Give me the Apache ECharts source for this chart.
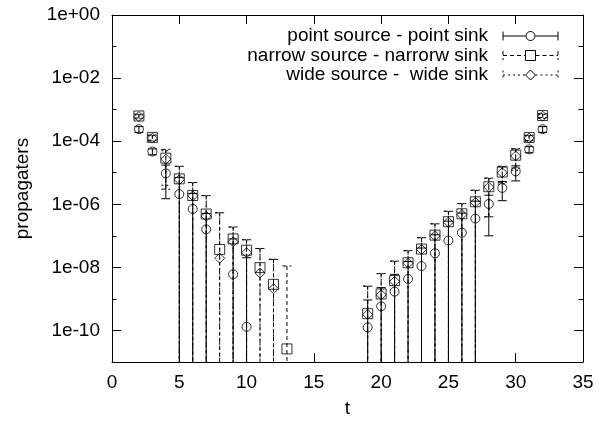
<!DOCTYPE html>
<html>
<head>
<meta charset="utf-8">
<script src="https://cdn.jsdelivr.net/npm/echarts@6/dist/echarts.min.js"></script>
<style>
  html, body { margin: 0; padding: 0; background: #fff; }
  #chart { width: 611px; height: 423px; }
</style>
</head>
<body>
<div id="chart"></div>
<script>
// Euclidean time slices t = 2 .. 32
const timeSlices = [2, 3, 4, 5, 6, 7, 8, 9, 10, 11, 12, 13, 14, 15, 16, 17, 18,
                    19, 20, 21, 22, 23, 24, 25, 26, 27, 28, 29, 30, 31, 32];

const seriesNames = [
  'point source - point sink',
  'narrow source - narrorw sink',
  'wide source -  wide sink'
];

// point source - point sink
const pointValues = [2.4e-4, 4.7e-5, 9.5e-6, 2.1e-6, 7.1e-7, 1.6e-7, null, 6.0e-9, 1.3e-10,
  null, null, null, null, null, null, null, null,
  1.25e-10, 5.8e-10, 1.7e-9, 4.3e-9, 1.1e-8, 2.8e-8, 7.1e-8, 1.26e-7, 3.5e-7, 1.02e-6,
  3.3e-6, 1.1e-5, 5.5e-5, 2.4e-4];
const pointErrors = [5e-5, 1e-5, 8e-6, 5e-6, 1.5e-6, 3.5e-7, null, 7.4e-8, 2.0e-8,
  null, null, null, null, null, null, null, null,
  8e-10, 1.7e-9, 4.3e-9, 1.1e-8, 3e-8, 8e-8, 2.2e-7, 4e-7, 9e-7, 9.2e-7,
  2.0e-6, 5.5e-6, 1.2e-5, 5e-5];

// narrow source - narrow sink
const narrowValues = [6.3e-4, 1.32e-4, 2.9e-5, 6.4e-6, 1.9e-6, 4.9e-7, 3.7e-8, 8.0e-8, 3.5e-8,
  9.8e-9, 2.9e-9, 2.6e-11, null, null, null, null, null,
  3.4e-10, 1.44e-9, 3.8e-9, 1.4e-8, 3.8e-8, 1.05e-7, 2.8e-7, 5.0e-7, 1.2e-6, 3.6e-6,
  1.05e-5, 3.6e-5, 1.3e-4, 6.5e-4];
const narrowErrors = [9e-5, 2.5e-5, 2.6e-5, 9.6e-6, 3.0e-6, 1.4e-6, 5e-7, 1.1e-7, 4e-8,
  3e-8, 1.5e-8, 1.1e-8, null, null, null, null, null,
  2.2e-9, 4.9e-9, 1.2e-8, 2.0e-8, 4.9e-8, 1.35e-7, 3.2e-7, 5.5e-7, 1.6e-6, 3.2e-6,
  5.5e-6, 2.2e-5, 2.5e-5, 9e-5];

// wide source - wide sink
const wideValues = [6.0e-4, 1.25e-4, 2.7e-5, 6.0e-6, 1.85e-6, 4.2e-7, 1.95e-8, 6.5e-8, 2.9e-8,
  6.6e-9, 2.1e-9, null, null, null, null, null, null,
  3.2e-10, 1.35e-9, 3.6e-9, 1.35e-8, 3.7e-8, 1.0e-7, 2.7e-7, 4.7e-7, 1.15e-6, 3.5e-6,
  1.0e-5, 3.4e-5, 1.25e-4, 6.2e-4];
const wideErrors = [9e-5, 2.5e-5, 2.3e-5, 1.0e-5, 3.0e-6, 1.45e-6, 5.2e-7, 1.25e-7, 4.6e-8,
  3.3e-8, 1.6e-8, null, null, null, null, null, null,
  2.2e-9, 5.0e-9, 1.2e-8, 2.0e-8, 5.0e-8, 1.4e-7, 3.3e-7, 5.8e-7, 1.6e-6, 3.1e-6,
  5.6e-6, 2.2e-5, 2.5e-5, 9e-5];

// one entry per decade, 1e-11 .. 1e+00; labelled every second decade
const yDecadeLabels = ['', '1e-10', '', '1e-08', '', '1e-06', '', '1e-04', '', '1e-02', '', '1e+00'];
const yMin = 1e-11, yMax = 1;
const xMin = 0, xMax = 35, xStep = 5;

const FONT = '"Liberation Sans", Arial, Helvetica, sans-serif';
const FS = 19;
const INK = '#000';

function toRows(values, errors) {
  const rows = [];
  timeSlices.forEach((t, i) => {
    if (values[i] != null) rows.push([t, values[i], errors[i]]);
  });
  return rows;
}

function errorBars(dash) {
  return function (params, api) {
    const t = api.value(0), v = api.value(1), e = api.value(2);
    const cs = params.coordSys;
    const floorY = cs.y + cs.height;
    const hi = api.coord([t, v + e]);
    const x = hi[0];
    const low = v - e;
    const hasLow = low > yMin;
    const yLow = hasLow ? api.coord([t, low])[1] : floorY;
    const style = { stroke: INK, lineWidth: 1, fill: null };
    if (dash) style.lineDash = dash;
    const children = [
      { type: 'line', shape: { x1: x, y1: hi[1], x2: x, y2: yLow }, style: style },
      { type: 'line', shape: { x1: x - 4.5, y1: hi[1], x2: x + 4.5, y2: hi[1] }, style: style }
    ];
    if (hasLow) {
      children.push({ type: 'line', shape: { x1: x - 4.5, y1: yLow, x2: x + 4.5, y2: yLow }, style: style });
    }
    return { type: 'group', children: children };
  };
}

const styles = [
  { dash: null, symbol: 'circle', size: 9, rows: toRows(pointValues, pointErrors) },
  { dash: [4, 3], symbol: 'rect', size: 10, rows: toRows(narrowValues, narrowErrors) },
  { dash: [2, 3], symbol: 'diamond', size: 10, rows: toRows(wideValues, wideErrors) }
];

const series = [];
styles.forEach((s, k) => {
  series.push({
    type: 'custom',
    name: seriesNames[k] + ' errors',
    xAxisIndex: 0, yAxisIndex: 0,
    clip: true,
    silent: true,
    renderItem: errorBars(s.dash),
    encode: { x: 0, y: 1 },
    data: s.rows,
    z: 2
  });
});
styles.forEach((s, k) => {
  series.push({
    type: 'scatter',
    name: seriesNames[k],
    xAxisIndex: 0, yAxisIndex: 0,
    symbol: s.symbol,
    symbolSize: s.size,
    itemStyle: { color: 'rgba(0,0,0,0)', borderColor: INK, borderWidth: 1 },
    silent: true,
    data: s.rows.map(r => [r[0], r[1]]),
    z: 3
  });
});

// legend: text on the left, error-bar sample on the right
const legendY = [36, 55.5, 75];
const graphic = [];
styles.forEach((s, k) => {
  const y = legendY[k];
  const x1 = 503, x2 = 558, xm = 530.5;
  const st = { stroke: INK, lineWidth: 1, fill: null };
  if (s.dash) st.lineDash = s.dash;
  graphic.push({
    type: 'text', x: 488, y: y,
    style: { text: seriesNames[k], font: FS + 'px ' + FONT, fill: INK, align: 'right', verticalAlign: 'middle' }
  });
  graphic.push({ type: 'line', shape: { x1: x1, y1: y, x2: xm - 5, y2: y }, style: st });
  graphic.push({ type: 'line', shape: { x1: xm + 5, y1: y, x2: x2, y2: y }, style: st });
  graphic.push({ type: 'line', shape: { x1: x1, y1: y - 4.5, x2: x1, y2: y + 4.5 }, style: st });
  graphic.push({ type: 'line', shape: { x1: x2, y1: y - 4.5, x2: x2, y2: y + 4.5 }, style: st });
  const mk = { stroke: INK, lineWidth: 1, fill: null };
  if (s.symbol === 'circle') {
    graphic.push({ type: 'circle', shape: { cx: xm, cy: y, r: 4.5 }, style: mk });
  } else if (s.symbol === 'rect') {
    graphic.push({ type: 'rect', shape: { x: xm - 5, y: y - 5, width: 10, height: 10 }, style: mk });
  } else {
    graphic.push({ type: 'polygon', shape: { points: [[xm, y - 5], [xm + 5, y], [xm, y + 5], [xm - 5, y]] }, style: mk });
  }
});

const axisText = { color: INK, fontFamily: FONT, fontSize: FS };
const line = { show: true, lineStyle: { color: INK, width: 1 } };

function decadeAxis(position, tickLen, onlyLabelled, withLabels, withLine) {
  return {
    type: 'category',
    position: position,
    data: yDecadeLabels,
    boundaryGap: false,
    axisLine: withLine ? line : { show: false },
    axisTick: {
      show: true, inside: true, length: tickLen,
      interval: onlyLabelled ? (i, v) => v !== '' : 0,
      lineStyle: { color: INK, width: 1 }
    },
    axisLabel: withLabels ? Object.assign({ show: true, interval: 0, margin: 12 }, axisText) : { show: false },
    splitLine: { show: false }
  };
}

const option = {
  animation: false,
  backgroundColor: '#fff',
  grid: { left: 112, right: 28, top: 15, bottom: 59, containLabel: false },
  xAxis: [
    {
      type: 'value', position: 'bottom', min: xMin, max: xMax, interval: xStep,
      name: 't', nameLocation: 'middle', nameGap: 37,
      nameTextStyle: axisText,
      axisLine: line,
      axisTick: { show: true, inside: true, length: 9, lineStyle: { color: INK } },
      axisLabel: Object.assign({ margin: 11 }, axisText),
      splitLine: { show: false }
    },
    {
      type: 'value', position: 'top', min: xMin, max: xMax, interval: xStep,
      axisLine: line,
      axisTick: { show: true, inside: true, length: 9, lineStyle: { color: INK } },
      axisLabel: { show: false },
      splitLine: { show: false }
    }
  ],
  yAxis: [
    {
      type: 'log', logBase: 10, min: yMin, max: yMax,
      axisLine: { show: false }, axisTick: { show: false },
      axisLabel: { show: false }, splitLine: { show: false },
      name: 'propagaters', nameLocation: 'middle', nameGap: 80, nameRotate: 90,
      nameTextStyle: axisText
    },
    decadeAxis('left', 9, true, true, true),
    decadeAxis('left', 4.5, false, false, false),
    decadeAxis('right', 9, true, false, true),
    decadeAxis('right', 4.5, false, false, false)
  ],
  series: series,
  graphic: graphic
};

const chart = echarts.init(document.getElementById('chart'), null, { renderer: 'canvas' });
chart.setOption(option);
</script>
</body>
</html>
